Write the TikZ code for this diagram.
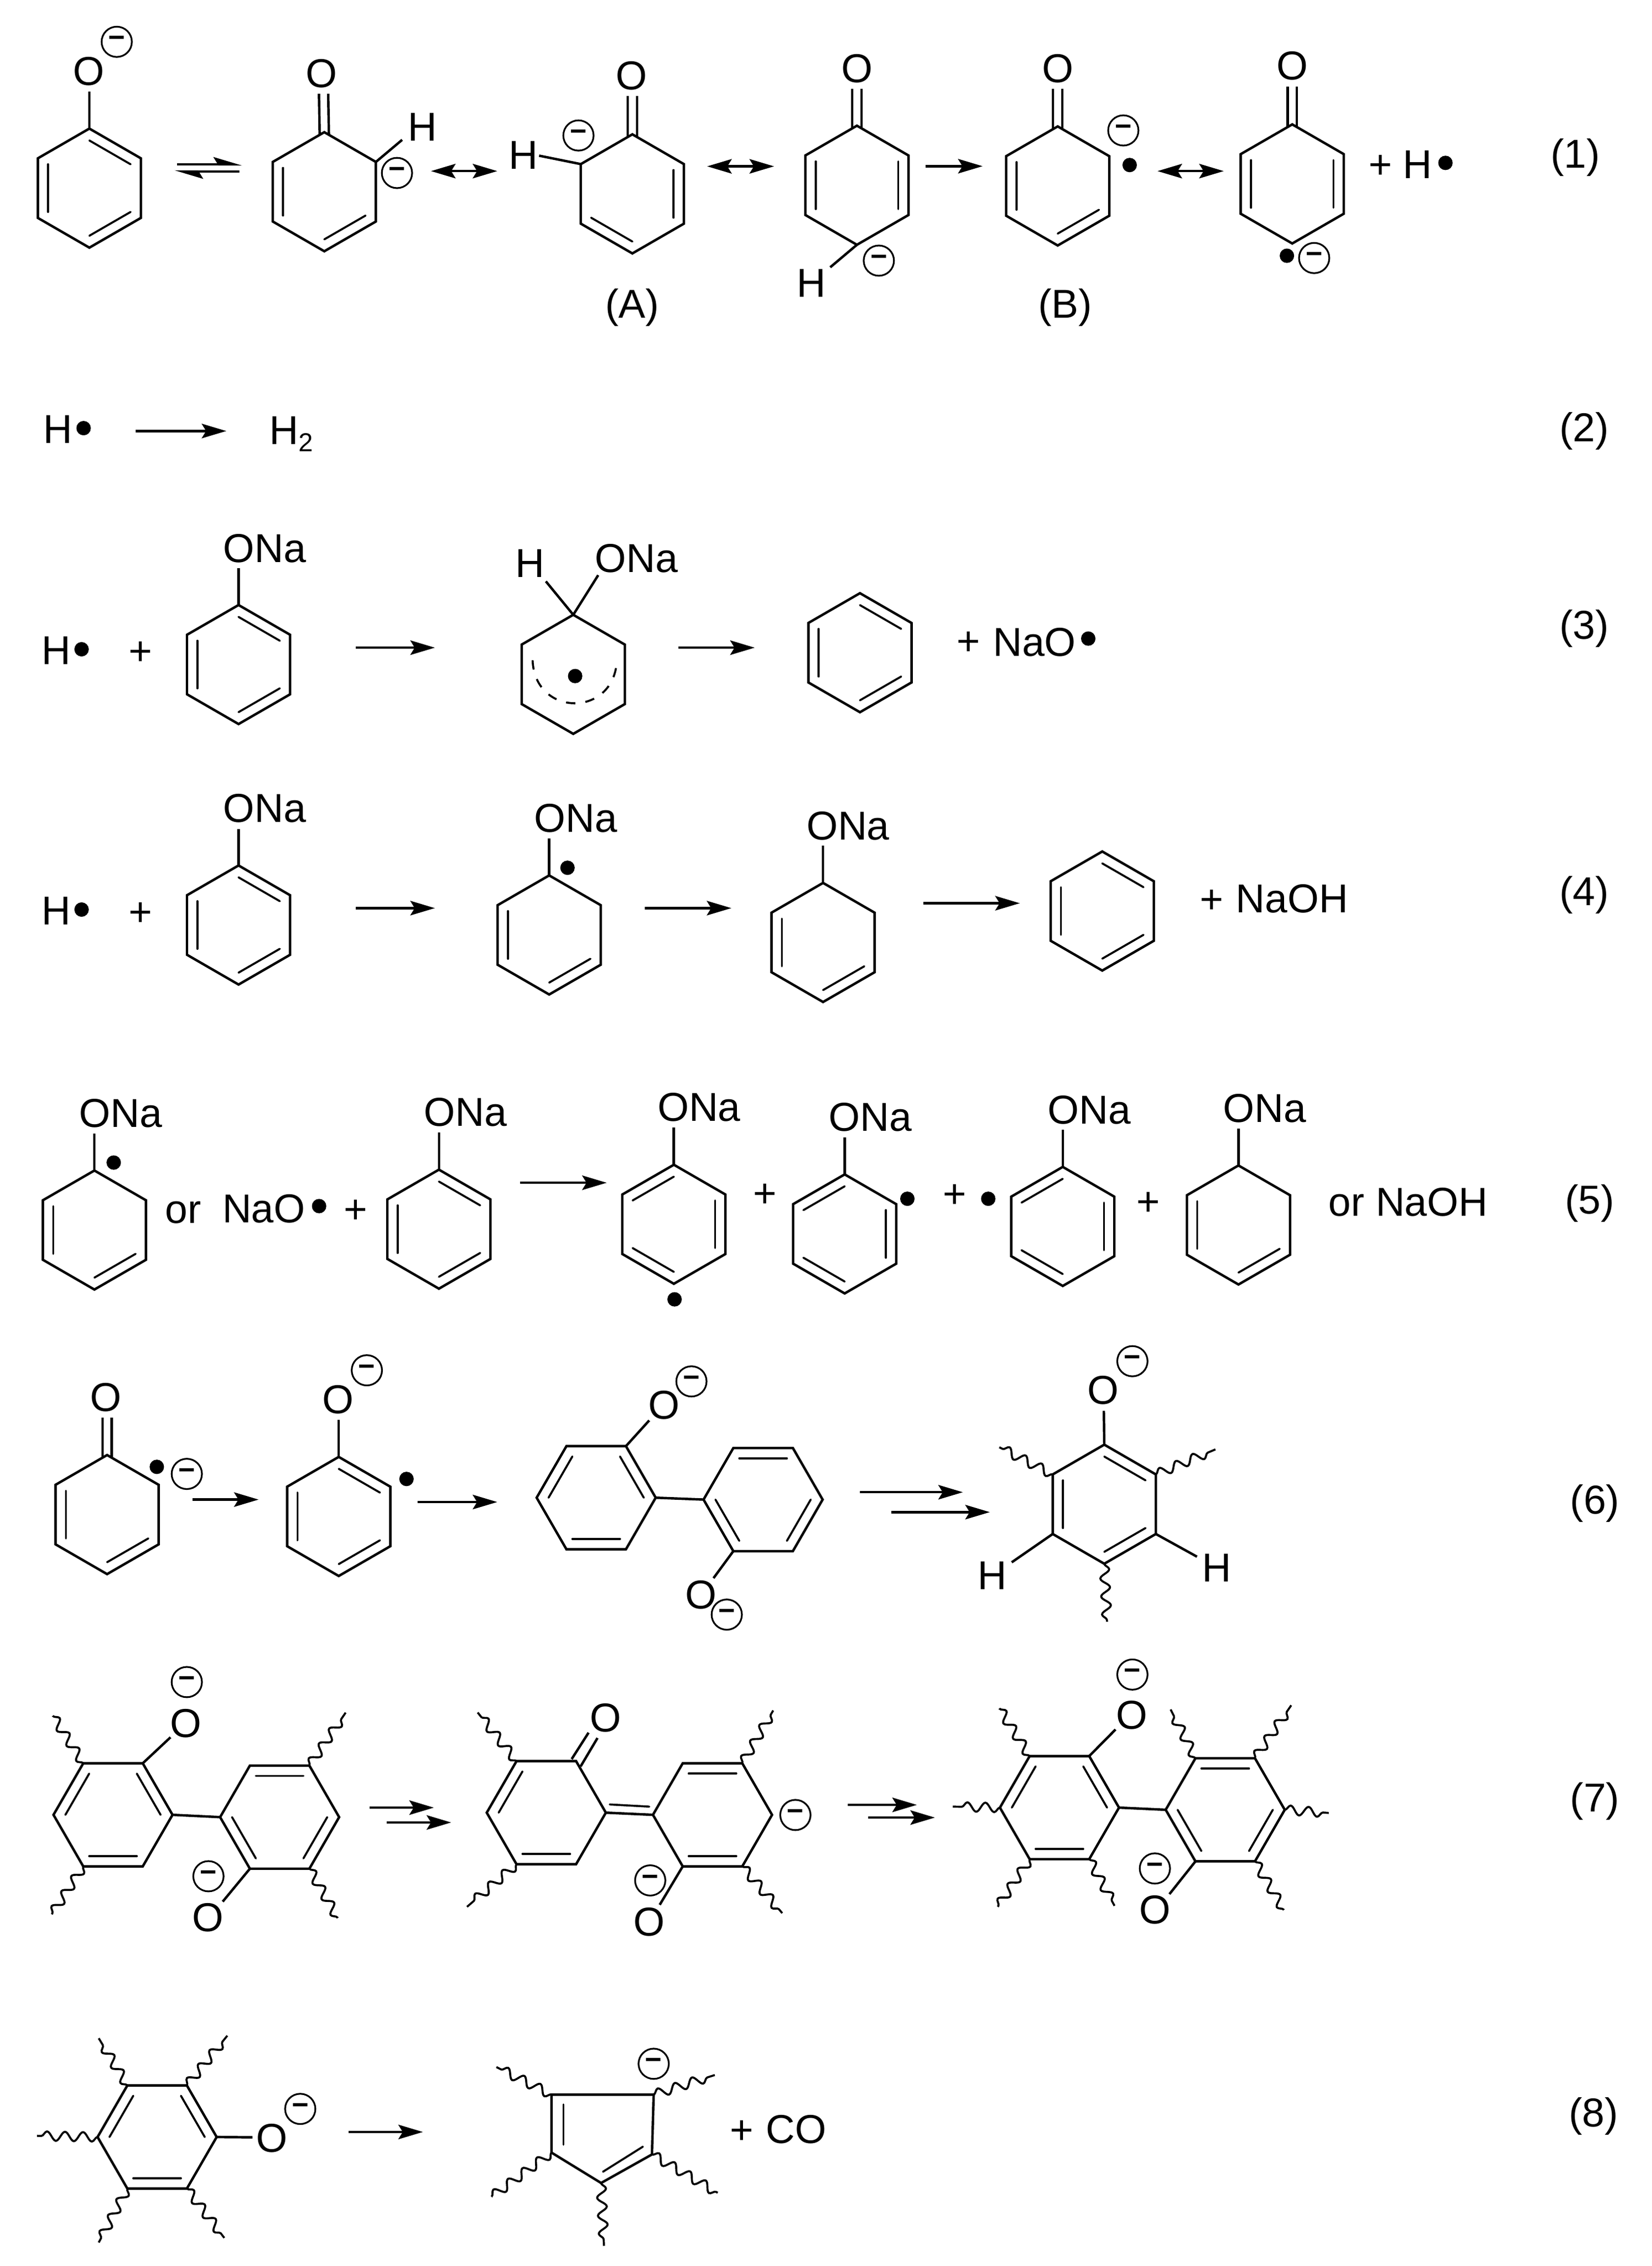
\documentclass[tikz,border=0pt]{standalone}
\usepackage{fontspec}
\setmainfont{Liberation Sans}
\usetikzlibrary{calc,arrows.meta,decorations.pathmorphing}
\def\ringR{41.3}
\tikzset{
 bond/.style={line width=1.7pt,line join=miter},
 inner/.style={line width=1.4pt,line cap=round},
 arr/.style={line width=1.7pt,-{Stealth[length=17pt,width=10pt,inset=3pt]}},
 arrs/.style={line width=1.7pt,{Stealth[length=17pt,width=10pt,inset=3pt]}-{Stealth[length=17pt,width=10pt,inset=3pt]}},
 harp/.style={line width=1.7pt,-{Stealth[harpoon,length=17pt,width=10pt,inset=3pt]}},
 wavy/.style={line width=1.4pt,decorate,decoration={snake,segment length=12.5pt,amplitude=3.2pt}},
 txt/.style={inner sep=0pt,font=\fontsize{28}{30}\selectfont},
 charge/.style={circle,draw,line width=1.2pt,minimum size=21pt,inner sep=0pt,font=\bfseries\fontsize{20}{20}\selectfont},
 radical/.style={circle,fill=black,minimum size=10pt,inner sep=0pt}
}
\newcommand{\hexring}[4][150]{
 \coordinate (#2c) at (#3,#4);
 \foreach \k in {1,...,6}
  \coordinate (#2\k) at ({#3+\ringR*cos(60*\k-#1)},{#4+\ringR*sin(60*\k-#1)});
 \draw[bond] (#21)--(#22)--(#23)--(#24)--(#25)--(#26)--cycle;
}
\newcommand{\dbl}[2]{
 \foreach \k in {#2}{
  \pgfmathtruncatemacro\j{mod(\k,6)+1}
  \draw[inner] ($(#1c)!0.8!(#1\k)$)--($(#1c)!0.8!(#1\j)$);
 }
}
\newcommand{\lab}[4]{\node[txt] (#1) at (#2,#3) {#4};}
\newcommand{\plu}[3]{\node[txt,yshift=-1.8pt] (#1) at (#2,#3) {+};}
\newcommand{\chg}[3]{\node[charge] (#1) at (#2,#3) {\raisebox{-3pt}{−}};}
\newcommand{\radi}[3]{\node[radical] (#1) at (#2,#3) {};}
\newcommand{\bnd}[3]{\coordinate (#1e) at (#2,#3); \draw[bond] (#1)--(#1e);}
\newcommand{\wvy}[3]{\coordinate (#1w) at (#2,#3); \draw[wavy] (#1)--(#1w);}
\newcommand{\coeq}[3]{
 \coordinate (#1e) at (#2,#3);
 \draw[bond] ($(#1)+(-3.2,1.8)$)--($(#1e)+(-3.2,0)$);
 \draw[bond] ($(#1)+(3.2,1.8)$)--($(#1e)+(3.2,0)$);
}
\newcommand{\flow}[5][arr]{
 \coordinate (#2s) at (#3,#5); \coordinate (#2t) at (#4,#5);
 \draw[#1] (#2s)--(#2t);
}
\begin{document}
\begin{tikzpicture}[x=1pt,y=-1pt]
 \useasboundingbox (0,0) rectangle (1146,1572);

 \hexring{a}{62}{130.5} \dbl{a}{1,3,5}
 \lab{aO}{61.5}{49.5}{O} \bnd{a1}{62}{63.5} \chg{aq}{81}{29}
 \flow[harp]{ea}{123}{168}{114} \flow[harp]{eb}{166}{121}{119}
 \hexring{b}{225}{133} \dbl{b}{3,5}
 \lab{bO}{223}{51}{O} \coeq{b1}{224.5}{65}
 \lab{bH}{293}{88}{H} \bnd{b2}{279}{97} \chg{bq}{275.4}{120}
 \flow[arrs]{rb}{299}{345}{118.7}
 \hexring{c}{438.7}{134.5} \dbl{c}{2,4}
 \lab{cO}{438.3}{52.6}{O} \coeq{c1}{438.7}{66.6}
 \lab{cH}{363}{107.7}{H} \bnd{c6}{374}{108} \chg{cq}{401.3}{94}
 \lab{cA}{438.6}{213.5}{(A)}
 \flow[arrs]{rc}{490.6}{537}{115.4}
 \hexring{d}{594.5}{128.5} \dbl{d}{2,5}
 \lab{dO}{594.5}{47.5}{O} \coeq{d1}{594.5}{61.5}
 \lab{dH}{563}{196.5}{H} \bnd{d4}{576}{185.4} \chg{dq}{609.7}{180.8}
 \flow{fd}{642}{681.7}{115.3}
 \hexring{e}{733.8}{129} \dbl{e}{3,5}
 \lab{eO}{733.8}{47.5}{O} \coeq{e1}{733.8}{61.5}
 \chg{eq}{779.3}{90.5} \radi{er}{783.7}{114.5}
 \lab{eB}{739}{213.5}{(B)}
 \flow[arrs]{re}{803}{849}{118.7}
 \hexring{f}{896.5}{127.6} \dbl{f}{2,5}
 \lab{fO}{896.5}{45.8}{O} \coeq{f1}{896.5}{60}
 \radi{fr}{892.8}{177.4} \chg{fq}{911.7}{179}
 \plu{fp}{957.7}{114} \lab{fH}{983.5}{114}{H} \radi{fs}{1002.8}{113}
 \lab{n1}{1093}{109.4}{(1)}

 \lab{gH}{40}{298}{H} \radi{gr}{58}{297}
 \flow{fg}{94}{157}{299}
 \lab{gT}{202}{301}{H\raisebox{-5pt}{\fontsize{18}{18}\selectfont 2}}
 \lab{n2}{1099}{299}{(2)}

 \lab{hH}{39}{451.4}{H} \radi{hr}{56.6}{450.4} \plu{hp}{97.4}{451.4}
 \hexring{h}{165.5}{461} \dbl{h}{1,3,5}
 \lab{hO}{183.5}{380.6}{ONa} \bnd{h1}{165.5}{394}
 \flow{fh}{247}{301.7}{449.3}
 \hexring{i}{397.7}{467.8}
 \lab{iH}{367.9}{391}{H} \bnd{i1}{378.7}{403.3}
 \coordinate (ie) at (415,399); \draw[bond] (i1)--(ie);
 \lab{iO}{441.4}{387.2}{ONa}
 \radi{ir}{399}{469}
 \coordinate (ids) at (369.5,458); \coordinate (idp) at (371,498);
 \coordinate (idq) at (427,498); \coordinate (ide) at (428,457);
 \draw[inner,line cap=butt,dash pattern=on 6.5pt off 7pt] (ids) .. controls (idp) and (idq) .. (ide);
 \flow{fi}{470.6}{523.6}{449.3}
 \hexring{j}{596.6}{452.8} \dbl{j}{1,3,5}
 \plu{jp}{672}{444.6} \lab{jN}{717.7}{445.5}{NaO} \radi{jr}{755}{443}
 \lab{n3}{1099}{436}{(3)}

 \lab{kH}{39}{632}{H} \radi{kr}{56.6}{631} \plu{kp}{97.4}{632.6}
 \hexring{k}{165.5}{641.7} \dbl{k}{1,3,5}
 \lab{kO}{183.5}{560.7}{ONa} \bnd{k1}{165.5}{575}
 \flow{fk}{247}{301.7}{630}
 \hexring{l}{381}{648.6} \dbl{l}{3,5}
 \lab{lO}{399.5}{567.6}{ONa} \bnd{l1}{381}{581.6} \radi{lr}{393.7}{602}
 \flow{fl}{447.3}{507.4}{630}
 \hexring{m}{571}{653.8} \dbl{m}{3,5}
 \lab{mO}{588.3}{573}{ONa} \bnd{m1}{571}{586.8}
 \flow{fm}{640.6}{707.5}{626.6}
 \hexring{o}{764.7}{632} \dbl{o}{1,3,5}
 \plu{op}{840.7}{623.5} \lab{oN}{896.3}{623.5}{NaOH}
 \lab{n4}{1099}{621}{(4)}

 \hexring{p}{65.5}{853.3} \dbl{p}{3,5}
 \lab{pO}{83.7}{772.4}{ONa} \bnd{p1}{65.5}{786.3} \radi{pr}{78.9}{806.5}
 \lab{por}{127}{841}{or} \lab{pN}{183}{838.5}{NaO} \radi{ps}{221.4}{836.7} \plu{pp}{246.7}{838.6}
 \hexring{q}{304.5}{852.7} \dbl{q}{1,3,5}
 \lab{qO}{322.9}{771.7}{ONa} \bnd{q1}{304.5}{785.7}
 \flow{fq}{360.8}{420.9}{820.5}
 \hexring{r}{467.5}{849.3} \dbl{r}{2,4,6}
 \lab{rO}{485}{768}{ONa} \bnd{r1}{467.5}{782} \radi{rr}{468}{901.4}
 \plu{rp}{530.6}{827.4}
 \hexring{s}{586}{856} \dbl{s}{2,4,6}
 \lab{sO}{603.8}{775.2}{ONa} \bnd{s1}{586}{789} \radi{sr}{629.5}{831.6}
 \plu{sp}{662.2}{827.8} \radi{ss}{685.6}{831.6}
 \hexring{t}{737.3}{850.8} \dbl{t}{2,4,6}
 \lab{tO}{755.6}{770}{ONa} \bnd{t1}{737.3}{783.7}
 \plu{tp}{796.5}{833.3}
 \hexring{u}{859.2}{849.8} \dbl{u}{3,5}
 \lab{uO}{877.4}{769}{ONa} \bnd{u1}{859.2}{782.9}
 \lab{uN}{977}{834}{or NaOH}
 \lab{n5}{1102.8}{834.8}{(5)}

 \hexring{v}{74.3}{1050.7} \dbl{v}{3,5}
 \lab{vO}{73.6}{969.4}{O} \coeq{v1}{74.3}{983.5}
 \radi{vr}{108.8}{1017.6} \chg{vq}{129.6}{1022.5}
 \flow{fv}{133.7}{179.4}{1040.3}
 \hexring{w}{235}{1052} \dbl{w}{1,3,5}
 \lab{wO}{234.7}{971}{O} \bnd{w1}{235}{985} \chg{wq}{254.5}{950.6} \radi{wr}{282}{1026}
 \flow{fw}{289.6}{345}{1042}
 \hexring[120]{xa}{413.6}{1039} \dbl{xa}{1,3,5}
 \hexring[120]{xb}{529.4}{1040.3} \dbl{xb}{2,4,6}
 \draw[bond] (xa2)--(xb5);
 \lab{xO}{460.6}{974.7}{O} \bnd{xa1}{450.4}{985.4} \chg{xq}{479.7}{958.3}
 \lab{xP}{486.3}{1106.5}{O} \bnd{xb4}{495}{1094.8} \chg{xs}{504.2}{1120.1}
 \flow{fxa}{596.4}{668}{1035.2} \flow{fxb}{618.2}{686.7}{1049}
 \hexring{y}{766.1}{1043.5} \dbl{y}{1,3,5}
 \lab{yO}{765.4}{964.5}{O} \bnd{y1}{765.8}{978.7} \chg{yq}{785.6}{944.3}
 \lab{yH}{688.3}{1092.9}{H} \bnd{y5}{701.9}{1083.8}
 \lab{yI}{844}{1087.8}{H} \bnd{y3}{830.4}{1079.9}
 \wvy{y6}{693.3}{1004} \wvy{y2}{843.2}{1005.5} \wvy{y4}{768}{1125}
 \lab{n6}{1106.5}{1042.8}{(6)}

 \hexring[120]{za}{78.4}{1259} \dbl{za}{1,3,5}
 \hexring[120]{zb}{194}{1260.6} \dbl{zb}{2,4,6}
 \draw[bond] (za2)--(zb5);
 \lab{zO}{128.9}{1195.4}{O} \bnd{za1}{118.3}{1205.2} \chg{zq}{129.6}{1166.9}
 \lab{zP}{144.3}{1330.2}{O} \bnd{zb4}{154.5}{1319.2} \chg{zs}{144.6}{1301.6}
 \wvy{za6}{36.6}{1190.3} \wvy{za4}{35.9}{1328} \wvy{zb1}{239.8}{1188.1} \wvy{zb3}{234.3}{1330.6}
 \flow{fza}{256.3}{301}{1254} \flow{fzb}{268.4}{313}{1264.3}
 \hexring[120]{zc}{379}{1257.5} \dbl{zc}{3,5}
 \hexring[120]{zd}{494.3}{1259} \dbl{zd}{3,6}
 \draw[bond] (zc2)--(zd5);
 \coordinate (zxs) at (423,1251.8); \coordinate (zxt) at (450.4,1253.3);
 \draw[inner] (zxs)--(zxt);
 \lab{zR}{420}{1191.8}{O}
 \coordinate (zcas) at (396.6,1220.3); \coordinate (zcat) at (408.3,1202);
 \coordinate (zcbs) at (402.8,1225.4); \coordinate (zcbt) at (414.5,1205.7);
 \draw[bond] (zcas)--(zcat); \draw[bond] (zcbs)--(zcbt);
 \lab{zT}{450.4}{1333.4}{O} \bnd{zd4}{457.7}{1321.4} \chg{zt}{451.1}{1304.5}
 \chg{zu}{551.8}{1259.1}
 \wvy{zc6}{331.4}{1188} \wvy{zc4}{324}{1322.8} \wvy{zd1}{536.4}{1186.6} \wvy{zd3}{542.7}{1327.2}
 \flow{fzc}{588.3}{636.1}{1252.1} \flow{fzd}{602.3}{648.6}{1260.9}
 \hexring[120]{ze}{735}{1254} \dbl{ze}{1,3,5}
 \hexring[120]{zf}{850}{1255.5} \dbl{zf}{2,4,6}
 \draw[bond] (ze2)--(zf5);
 \lab{zU}{785.2}{1190}{O} \bnd{ze1}{773.9}{1199.8} \chg{zv}{785.6}{1161.7}
 \lab{zV}{801.2}{1325}{O} \bnd{zf4}{811.3}{1314} \chg{zw}{801.2}{1296.2}
 \wvy{ze6}{693.3}{1185.2} \wvy{ze5}{661}{1253.3} \wvy{ze4}{692.2}{1322.8} \wvy{ze3}{773.2}{1322.1}
 \wvy{zf6}{812.1}{1185.9} \wvy{zf1}{895.8}{1183} \wvy{zf2}{921.8}{1257.7} \wvy{zf3}{890.7}{1325}
 \lab{n7}{1106.5}{1249.6}{(7)}

 \hexring[120]{am}{109}{1482.5} \dbl{am}{1,3,5}
 \lab{amO}{188.8}{1483.5}{O} \bnd{am2}{175.1}{1482.7} \chg{amq}{208.3}{1463}
 \wvy{am6}{68.5}{1414} \wvy{am1}{157.7}{1412.2} \wvy{am5}{25.7}{1481.7} \wvy{am4}{68.5}{1555.7} \wvy{am3}{155.6}{1552.5}
 \flow{fam}{241.9}{293.4}{1479}
 \foreach \n/\x/\y in {1/382.6/1453.1,2/453.5/1453.1,3/452.3/1494.6,4/417/1514.4,5/382.6/1493.3}
  \coordinate (pa\n) at (\x,\y);
 \draw[bond] (pa1)--(pa2)--(pa3)--(pa4)--(pa5)--cycle;
 \coordinate (pxs) at (390.9,1459.9); \coordinate (pxt) at (390.9,1487.8);
 \coordinate (pys) at (446,1489.2); \coordinate (pyt) at (418.3,1506.6);
 \draw[inner] (pxs)--(pxt); \draw[inner] (pys)--(pyt);
 \wvy{pa1}{344.4}{1434} \wvy{pa2}{495.9}{1439.5} \wvy{pa5}{341}{1523.9} \wvy{pa3}{497.9}{1521.2} \wvy{pa4}{419}{1558}
 \chg{paq}{453.5}{1431.7}
 \plu{pap}{514.5}{1477.2} \lab{paC}{552.5}{1477.2}{CO}
 \lab{n8}{1105.5}{1468}{(8)}
\end{tikzpicture}
\end{document}
